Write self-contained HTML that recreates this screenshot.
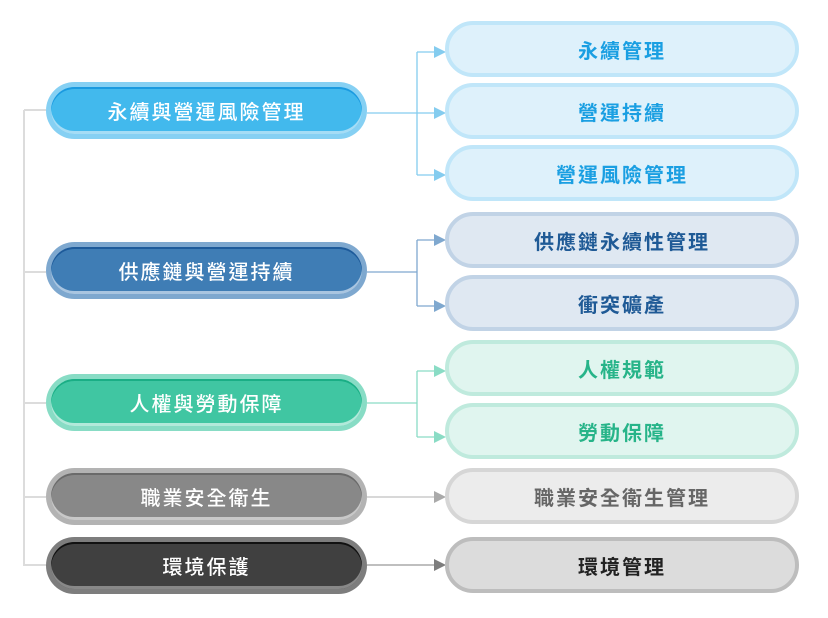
<!DOCTYPE html>
<html><head><meta charset="utf-8"><style>
html,body{margin:0;padding:0;background:#fff;}
body{width:828px;height:618px;position:relative;overflow:hidden;font-family:"Liberation Sans","Noto Sans CJK TC",sans-serif;}
.lb{position:absolute;left:46px;width:321px;height:57px;border-radius:29px;}
.lb .in{position:absolute;left:5px;top:5px;right:5px;bottom:5px;border-radius:24px;}
.lb .t{position:absolute;left:0;right:0;top:0;bottom:0;display:flex;align-items:center;justify-content:center;color:#fff;font-size:20px;letter-spacing:2px;font-family:"Noto Sans CJK TC",sans-serif;font-weight:500;}
.rb{position:absolute;left:445px;width:346px;height:48px;border-radius:28px;border:4px solid;display:flex;align-items:center;justify-content:center;font-size:20px;letter-spacing:2px;font-family:"Noto Sans CJK TC",sans-serif;font-weight:700;}
svg{position:absolute;left:0;top:0;}
</style></head><body>
<svg width="828" height="618">
<!-- trunk -->
<g stroke="#dcdcdc" stroke-width="2" fill="none">
<path d="M24 110 V566"/>
<path d="M24 110 H46 M24 272 H46 M24 403 H46 M24 497 H46 M24 565 H46"/>
</g>
<!-- group1 -->
<g stroke="#84ccef" stroke-width="1.3" fill="none">
<path d="M367 113 H417 M417 52 V175 M417 52 H436 M417 113 H436 M417 175 H436"/>
</g>
<g fill="#84ccef">
<path d="M434 46 L446 52 L434 58Z"/><path d="M434 107 L446 113 L434 119Z"/><path d="M434 169 L446 175 L434 181Z"/>
</g>
<!-- group2 -->
<g stroke="#7fa8cf" stroke-width="1.3" fill="none">
<path d="M367 272 H417 M417 240 V306 M417 240 H436 M417 306 H436"/>
</g>
<g fill="#7fa8cf">
<path d="M434 234 L446 240 L434 246Z"/><path d="M434 300 L446 306 L434 312Z"/>
</g>
<!-- group3 -->
<g stroke="#8adcc5" stroke-width="1.3" fill="none">
<path d="M367 403 H417 M417 371 V437 M417 371 H436 M417 437 H436"/>
</g>
<g fill="#8adcc5">
<path d="M434 365 L446 371 L434 377Z"/><path d="M434 431 L446 437 L434 443Z"/>
</g>
<!-- group4 -->
<path d="M367 497 H436" stroke="#cccccc" stroke-width="1.5"/>
<path d="M434 491 L446 497 L434 503Z" fill="#aaaaaa"/>
<!-- group5 -->
<path d="M367 565 H436" stroke="#aaaaaa" stroke-width="1.5"/>
<path d="M434 559 L446 565 L434 571Z" fill="#7d7d7d"/>
</svg>

<div class="lb" style="top:82px;background:#86d0f3;"><div class="in" style="background:#42b9ed;box-shadow:inset 0 2px 0 #1a9ae0, inset 0 -3px 0 #a5dcf5;"></div><div class="t">永續與營運風險管理</div></div>
<div class="lb" style="top:242px;background:#7ea8cf;"><div class="in" style="background:#3f7db5;box-shadow:inset 0 2px 0 #1d5a9a, inset 0 -3px 0 #a9c5e0;"></div><div class="t">供應鏈與營運持續</div></div>
<div class="lb" style="top:374px;background:#88dcc5;"><div class="in" style="background:#40c6a2;box-shadow:inset 0 2px 0 #1aae85, inset 0 -3px 0 #b2e9da;"></div><div class="t">人權與勞動保障</div></div>
<div class="lb" style="top:468px;background:#b3b3b3;"><div class="in" style="background:#888888;box-shadow:inset 0 2px 0 #6a6a6a, inset 0 -3px 0 #c8c8c8;"></div><div class="t">職業安全衛生</div></div>
<div class="lb" style="top:537px;background:#7d7d7d;"><div class="in" style="background:#404040;box-shadow:inset 0 2px 0 #111111, inset 0 -3px 0 #888888;"></div><div class="t">環境保護</div></div>

<div class="rb" style="top:21px;background:#def1fb;border-color:#c0e6f9;color:#1a9fe2;">永續管理</div>
<div class="rb" style="top:83px;background:#def1fb;border-color:#c0e6f9;color:#1a9fe2;">營運持續</div>
<div class="rb" style="top:145px;background:#def1fb;border-color:#c0e6f9;color:#1a9fe2;">營運風險管理</div>
<div class="rb" style="top:212px;background:#dfe8f2;border-color:#c1d3e6;color:#1f5a96;">供應鏈永續性管理</div>
<div class="rb" style="top:275px;background:#dfe8f2;border-color:#c1d3e6;color:#1f5a96;">衝突礦產</div>
<div class="rb" style="top:340px;background:#e0f5ef;border-color:#bfeadd;color:#27b489;">人權規範</div>
<div class="rb" style="top:403px;background:#e0f5ef;border-color:#bfeadd;color:#27b489;">勞動保障</div>
<div class="rb" style="top:468px;background:#ececec;border-color:#d6d6d6;color:#666666;">職業安全衛生管理</div>
<div class="rb" style="top:537px;background:#dcdcdc;border-color:#bdbdbd;color:#222222;">環境管理</div>
</body></html>
